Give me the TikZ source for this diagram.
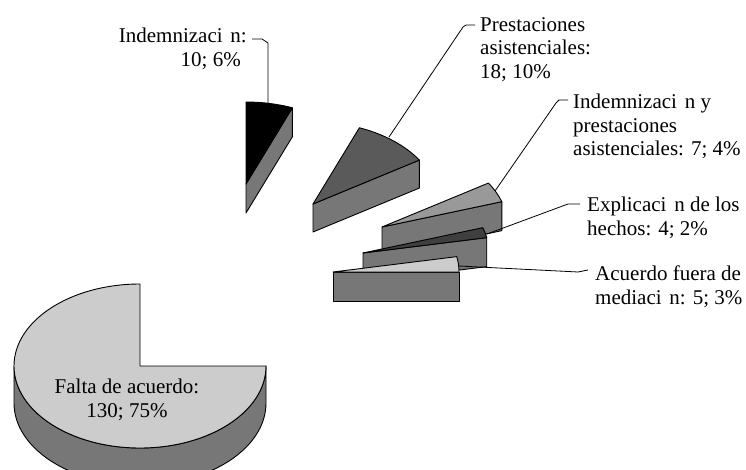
\documentclass[tikz,border=0pt]{standalone}
\usepackage{fontspec}
\setmainfont{Liberation Serif}
\usetikzlibrary{calc}
\definecolor{sidegray}{HTML}{777777}
\definecolor{lightgray}{HTML}{CCCCCC}
\definecolor{midgray}{HTML}{999999}
\definecolor{darkgray}{HTML}{5A5A5A}
\definecolor{deepgray}{HTML}{3F3F3F}
\newcommand\myslice[7]{%
  % #1 name, #2 apex x, #3 apex y (px, down), #4 start angle, #5 end angle, #6 top colour, #7 depth
  \coordinate (#1a) at (#2,-#3);
  \coordinate (#1b) at ($(#1a)+(#5:126pt and 82pt)$);
  \draw[edge,fill=sidegray] (#1a) -- (#1b) -- ([yshift=-#7pt]#1b) -- ([yshift=-#7pt]#1a) -- cycle;
  \draw[edge,fill=#6] (#1a) -- ++(#4:126pt and 82pt)
     arc[start angle=#4,end angle=#5,x radius=126pt,y radius=82pt] -- cycle;
}
\begin{document}
\begin{tikzpicture}[x=1pt,y=1pt,
  edge/.style={draw=black,line width=0.9pt,line join=round},
  lead/.style={draw=black,line width=0.8pt},
  lbl/.style={inner sep=0pt,font=\fontsize{21}{23.5}\selectfont}]
\clip (0,0) rectangle (746,-470);
\fill[white] (0,0) rectangle (746,-470);
% main pie
\coordinate (C) at (140,-366);
\draw[edge,fill=sidegray] (C) ++(180:126pt and 82pt)
   arc[start angle=180,end angle=360,x radius=126pt,y radius=82pt] -- ++(0,-37)
   arc[start angle=360,end angle=180,x radius=126pt,y radius=82pt] -- cycle;
\draw[edge,fill=lightgray] (C) -- ++(90:126pt and 82pt)
   arc[start angle=90,end angle=360,x radius=126pt,y radius=82pt] -- cycle;
% exploded slices
\myslice{s1}{246}{184}{90}{68.4}{black}{29}
\myslice{s2}{313}{204}{68.4}{32.4}{darkgray}{28}
\myslice{s3}{382}{227}{32.4}{18}{midgray}{29}
\myslice{s4}{363}{253}{18}{10.8}{deepgray}{29}
\myslice{s5}{333}{272}{10.8}{0}{lightgray}{29}
% labels
\node[lbl,align=right,anchor=north east] (l1) at (247,-28)
  {Indemnizaci\hspace{0.12em} n:\\10; 6\%\rule{6pt}{0pt}};
\node[lbl,align=left,anchor=north west] (l2) at (480,-17)
  {Prestaciones\\asistenciales:\\18; 10\%};
\node[lbl,align=left,anchor=north west] (l3) at (573,-94)
  {Indemnizaci\hspace{0.12em} n y\\prestaciones\\asistenciales: 7; 4\%};
\node[lbl,align=left,anchor=north west] (l4) at (587,-197)
  {Explicaci\hspace{0.12em} n de los\\hechos: 4; 2\%};
\node[lbl,align=left,anchor=north west] (l5) at (595,-266)
  {Acuerdo fuera de\\mediaci\hspace{0.12em} n: 5; 3\%};
\node[lbl,align=center,anchor=north] (l6) at (127,-379)
  {Falta de acuerdo:\\130; 75\%};
% leader end points
\coordinate (e1) at (268,-103);
\coordinate (e2) at (389,-137);
\coordinate (e3) at (495,-191);
\coordinate (e4) at (487,-234);
\coordinate (e5) at (459,-266);
% leaders
\draw[lead] ($(l1.north east)+(5,-11)$) -- ++(10,0) -- ++(6,-4) |- (e1);
\draw[lead] ($(l2.north west)+(-5,-8)$) -- ++(-9,0) -- ++(-3,-2) -- (e2);
\draw[lead] ($(l3.north west)+(-5,-6)$) -- ++(-9,0) -- ++(-3,-3) -- (e3);
\draw[lead] ($(l4.north west)+(-7,-7)$) -- ++(-12,0) -- (e4);
\draw[lead] ($(l5.north west)+(-7,-4)$) -- ++(-10,-2) -- (e5);
\end{tikzpicture}
\end{document}
